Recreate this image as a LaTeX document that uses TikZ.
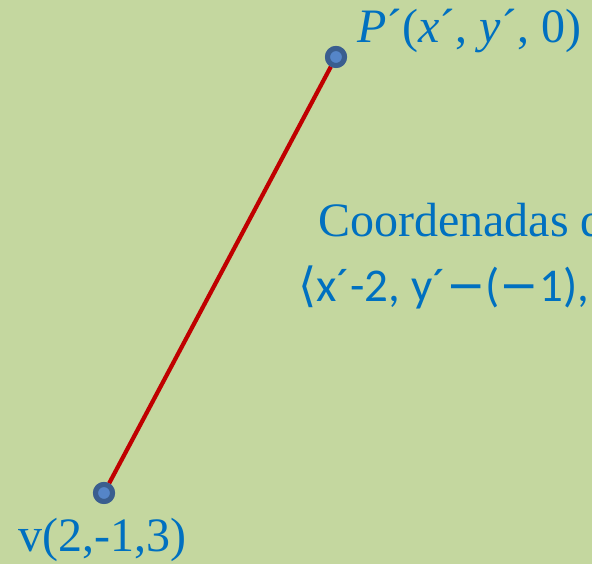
\documentclass[tikz,border=0pt]{standalone}
\usepackage{fontspec}
\setmainfont{Liberation Serif}
\newfontfamily\calfont{Carlito}
\newfontfamily\symfont{DejaVu Sans}
\usepackage{tikz}
\usetikzlibrary{positioning}
\definecolor{bggreen}{HTML}{C4D79F}
\definecolor{txtblue}{HTML}{0070C0}
\definecolor{segred}{HTML}{C00000}
\definecolor{ptfill}{HTML}{5585C8}
\definecolor{ptdraw}{HTML}{3A5E8F}
\newcommand{\lmin}{{\symfont\fontsize{47}{54}\selectfont −}}
\tikzset{
  pt/.style={draw=ptdraw, fill=ptfill, circle, line width=5pt, minimum size=17pt, inner sep=0pt},
  seg/.style={draw=segred, line width=4.2pt},
  lbl/.style={anchor=base west, inner sep=0pt, text=txtblue, font=\fontsize{48}{56}\selectfont},
  lblsans/.style={anchor=base west, inner sep=0pt, text=txtblue, font=\calfont\fontsize{47}{54}\selectfont}
}

\begin{document}
\begin{tikzpicture}[x=1pt,y=1pt]
  \fill[bggreen] (0,0) rectangle (592,564);
  \useasboundingbox (0,0) rectangle (592,564);
  \clip (0,0) rectangle (592,564);

  \node[pt] (pp) at (336,507) {};
  \node[pt] (v) at (104,71) {};
  \draw[seg] (v) -- (pp);
  \node[pt] at (pp) {};
  \node[pt] at (v) {};

  \node[lbl] (pplabel) at (357,521) {\itshape P\upshape´(\itshape x\upshape´, \itshape y\upshape´, 0)};
  \node[lbl] (vlabel) at (18,12) {v(2,-1,3)};
  \node[lbl] (coord) at (318,327) {Coordenadas d};
  \node[lblsans] (comp) at (298,262) {{\symfont⟨}x´-2, y´\lmin(\lmin1),};
\end{tikzpicture}
\end{document}
